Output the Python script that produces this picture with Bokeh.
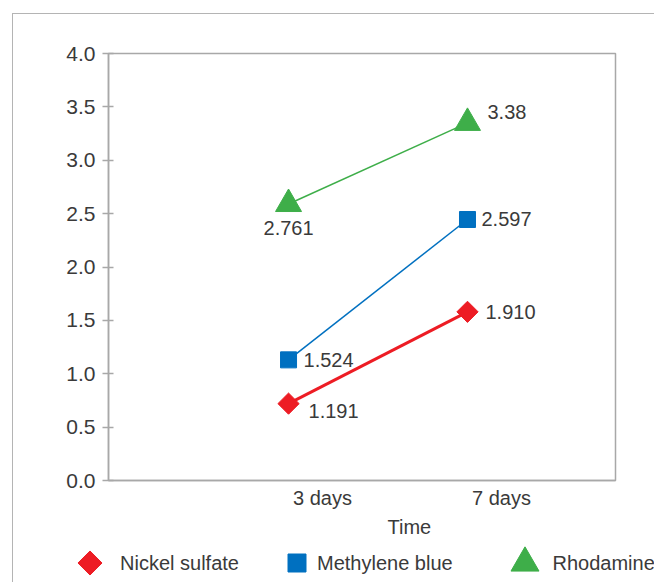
import math
from bokeh.plotting import figure
from bokeh.layouts import column
from bokeh.models import (Range1d, FixedTicker, Label, NumeralTickFormatter, Title)
from bokeh.embed import file_html
from bokeh.resources import INLINE

# ---- data ----
categories = ["3 days", "7 days"]
x_pos = [0, 1]
nickel = [0.72, 1.58]
methylene = [1.13, 2.445]
rhodamine = [2.59, 3.35]
nickel_labels = ["1.191", "1.910"]
methylene_labels = ["1.524", "2.597"]
rhodamine_labels = ["2.761", "3.38"]
series_names = ["Nickel sulfate", "Methylene blue", "Rhodamine"]
y_ticks = [0.0, 0.5, 1.0, 1.5, 2.0, 2.5, 3.0, 3.5, 4.0]
x_title = "Time"

FONT = "Liberation Sans"
TEXT = "#3a3a3a"
GRAY = "#a8a8a8"
RED = "#ED1C24"
BLUE = "#0070C0"
GREEN = "#3EAE49"
CAT_SHIFT = 0.19  # category labels sit slightly right of the points

p = figure(frame_width=507, frame_height=427,
           x_range=Range1d(-1.006, 1.827), y_range=Range1d(0, 4),
           output_backend="svg", toolbar_location=None,
           min_border_left=95, min_border_right=39,
           min_border_top=39, min_border_bottom=62)
p.grid.visible = False
p.outline_line_color = GRAY
p.outline_line_width = 1.5
p.background_fill_color = "white"
p.border_fill_color = "white"

ax = p.yaxis[0]
ax.ticker = FixedTicker(ticks=y_ticks)
ax.formatter = NumeralTickFormatter(format="0.0")
ax.minor_tick_line_color = None
ax.major_tick_in = 5
ax.major_tick_out = 6
ax.axis_line_color = GRAY
ax.axis_line_width = 1.5
ax.major_tick_line_color = GRAY
ax.major_tick_line_width = 1.5
ax.major_label_text_font = FONT
ax.major_label_text_font_size = "21px"
ax.major_label_text_color = TEXT
ax.major_label_standoff = 7

xa = p.xaxis[0]
xa.ticker = FixedTicker(ticks=[x + CAT_SHIFT for x in x_pos])
xa.major_label_overrides = {x + CAT_SHIFT: c for x, c in zip(x_pos, categories)}
xa.major_tick_in = 0
xa.major_tick_out = 0
xa.minor_tick_line_color = None
xa.axis_line_color = GRAY
xa.axis_line_width = 1.5
xa.major_label_text_font = FONT
xa.major_label_text_font_size = "20px"
xa.major_label_text_color = TEXT
xa.major_label_standoff = 6

# lines
p.line(x_pos, rhodamine, line_color=GREEN, line_width=1.5)
p.line(x_pos, methylene, line_color=BLUE, line_width=1.5)
p.line(x_pos, nickel, line_color=RED, line_width=3)

# markers
MARKERS = [dict(marker="square", size=15, angle=math.pi / 4, color=RED),
           dict(marker="square", size=16, angle=0, color=BLUE),
           dict(marker="triangle", size=26, angle=0, color=GREEN)]
for vals, m in zip([nickel, methylene, rhodamine], MARKERS):
    p.scatter(x_pos, vals, marker=m["marker"], size=m["size"], angle=m["angle"],
              fill_color=m["color"], line_color=m["color"])

def add_label(fig, x, y, text, dx=0, dy=0, align="left"):
    fig.add_layout(Label(x=x, y=y, text=text, x_offset=dx, y_offset=dy,
                         text_align=align, text_baseline="middle",
                         text_font=FONT, text_font_size="20px",
                         text_color=TEXT))

nic_off = [(20, -7), (18, 0)]
met_off = [(15, 0), (14, 0)]
rho_off = [(0, -24, "center"), (20, 11, "left")]
for i in range(2):
    add_label(p, x_pos[i], nickel[i], nickel_labels[i], *nic_off[i])
    add_label(p, x_pos[i], methylene[i], methylene_labels[i], *met_off[i])
    add_label(p, x_pos[i], rhodamine[i], rhodamine_labels[i], *rho_off[i])

# axis title (below the category labels)
p.add_layout(Title(text=x_title, align="left", offset=279, standoff=4,
                   text_font=FONT, text_font_size="20px",
                   text_font_style="normal", text_color=TEXT), "below")

# ---- legend strip ----
LEG_W, LEG_H = 641, 40
leg = figure(width=LEG_W, height=LEG_H, x_range=Range1d(0, LEG_W),
             y_range=Range1d(0, LEG_H), output_backend="svg",
             toolbar_location=None, min_border=0,
             x_axis_location=None, y_axis_location=None)
leg.frame_align = False
leg.grid.visible = False
leg.outline_line_color = None
leg.border_fill_color = "white"
leg_marker_x = [76.5, 283.5, 511.5]
leg_text_x = [106.5, 303.5, 539]
leg_y = 19.5
for name, m, mx, tx in zip(series_names, MARKERS, leg_marker_x, leg_text_x):
    leg.scatter([mx], [leg_y], marker=m["marker"], size=m["size"] + 2,
                angle=m["angle"], fill_color=m["color"], line_color=m["color"])
    add_label(leg, tx, leg_y, name)

lay = column(p, leg, spacing=0,
             styles={"margin-left": "12px", "margin-top": "13px",
                     "border-left": "1.5px solid #b4b4b4",
                     "border-top": "1.5px solid #b4b4b4"})

open("out.html", "w").write(file_html(lay, INLINE))
